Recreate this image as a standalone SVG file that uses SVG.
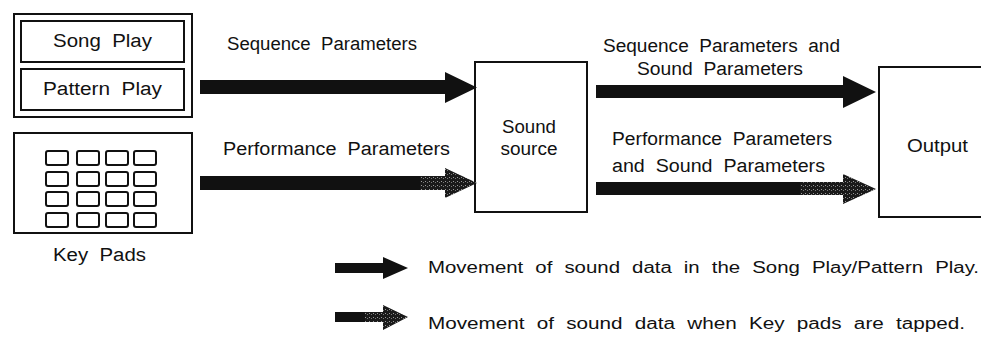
<svg xmlns="http://www.w3.org/2000/svg" width="981" height="338" viewBox="0 0 981 338">
<style>
  .box{fill:#fff;stroke:#111;stroke-width:2}
  .pad{fill:#fff;stroke:#111;stroke-width:2}
  .t{font-family:"Liberation Sans",Arial,sans-serif;font-size:18px;fill:#111;word-spacing:5px}
  .s{font-family:"Liberation Sans",Arial,sans-serif;font-size:16px;fill:#111;word-spacing:5px}
  .solid{fill:#111}
  .dith{fill:url(#speckle)}
</style>
<defs>
  <pattern id="speckle" width="4" height="4" patternUnits="userSpaceOnUse">
    <rect width="4" height="4" fill="#1a1a1a"/>
    <rect x="1" y="1" width="1" height="1" fill="#999"/>
    <rect x="3" y="2" width="1" height="1" fill="#777"/>
  </pattern>
</defs>
<rect width="981" height="338" fill="#fff"/>

<g id="play-group">
  <rect class="box" x="14" y="14" width="178" height="103"/>
  <g id="song-play">
    <rect class="box" x="21" y="21" width="163" height="41"/>
    <text class="t" x="53" y="47" textLength="99" lengthAdjust="spacingAndGlyphs">Song Play</text>
  </g>
  <g id="pattern-play">
    <rect class="box" x="21" y="69" width="163" height="41"/>
    <text class="t" x="43" y="95" textLength="119" lengthAdjust="spacingAndGlyphs">Pattern Play</text>
  </g>
</g>

<g id="key-pads">
  <rect class="box" x="14" y="133" width="178" height="100"/>
  <g>
    <rect class="pad" x="46" y="151" width="22" height="14" rx="2"/>
    <rect class="pad" x="77" y="151" width="22" height="14" rx="2"/>
    <rect class="pad" x="106" y="151" width="22" height="14" rx="2"/>
    <rect class="pad" x="134" y="151" width="22" height="14" rx="2"/>
    <rect class="pad" x="46" y="172" width="22" height="14" rx="2"/>
    <rect class="pad" x="77" y="172" width="22" height="14" rx="2"/>
    <rect class="pad" x="106" y="172" width="22" height="14" rx="2"/>
    <rect class="pad" x="134" y="172" width="22" height="14" rx="2"/>
    <rect class="pad" x="46" y="192" width="22" height="14" rx="2"/>
    <rect class="pad" x="77" y="192" width="22" height="14" rx="2"/>
    <rect class="pad" x="106" y="192" width="22" height="14" rx="2"/>
    <rect class="pad" x="134" y="192" width="22" height="14" rx="2"/>
    <rect class="pad" x="46" y="213" width="22" height="14" rx="2"/>
    <rect class="pad" x="77" y="213" width="22" height="14" rx="2"/>
    <rect class="pad" x="106" y="213" width="22" height="14" rx="2"/>
    <rect class="pad" x="134" y="213" width="22" height="14" rx="2"/>
  </g>
  <text class="t" x="53" y="261" textLength="93" lengthAdjust="spacingAndGlyphs">Key Pads</text>
</g>

<g id="sound-source">
  <rect class="box" x="475" y="62" width="112" height="150"/>
  <text class="t" x="529" y="133" text-anchor="middle" textLength="54" lengthAdjust="spacingAndGlyphs">Sound</text>
  <text class="t" x="529" y="155" text-anchor="middle" textLength="57" lengthAdjust="spacingAndGlyphs">source</text>
</g>

<g id="output">
  <rect class="box" x="879" y="67" width="120" height="150"/>
  <text class="t" x="907" y="152" textLength="61" lengthAdjust="spacingAndGlyphs">Output</text>
</g>

<g id="connectors">
  <polygon class="solid" points="200,80 445,80 445,72 477,87.5 445,103 445,94 200,94"/>
  <polygon class="solid" points="200,176 420,176 420,190 200,190"/>
  <polygon class="dith" points="420,176 445,176 445,168 477,183 445,198 445,190 420,190"/>
  <polygon class="solid" points="596,85 843,85 843,76 876,92 843,108 843,98 596,98"/>
  <polygon class="solid" points="596,182 800,182 800,195 596,195"/>
  <polygon class="dith" points="800,182 843,182 843,174 876,189 843,204 843,195 800,195"/>
  <text class="t" x="227" y="50" textLength="190" lengthAdjust="spacingAndGlyphs">Sequence Parameters</text>
  <text class="t" x="223" y="155" textLength="227" lengthAdjust="spacingAndGlyphs">Performance Parameters</text>
  <text class="t" x="603" y="52" textLength="237" lengthAdjust="spacingAndGlyphs">Sequence Parameters and</text>
  <text class="t" x="637" y="75" textLength="166" lengthAdjust="spacingAndGlyphs">Sound Parameters</text>
  <text class="t" x="612" y="145" textLength="220" lengthAdjust="spacingAndGlyphs">Performance Parameters</text>
  <text class="t" x="612" y="172" textLength="213" lengthAdjust="spacingAndGlyphs">and Sound Parameters</text>
</g>

<g id="legend">
  <polygon class="solid" points="335,263 383,263 383,257 408,268 383,279 383,273 335,273"/>
  <text class="s" x="428" y="273" textLength="551" lengthAdjust="spacingAndGlyphs">Movement of sound data in the Song Play/Pattern Play.</text>
  <polygon class="solid" points="335,312 365,312 365,322 335,322"/>
  <polygon class="dith" points="365,312 383,312 383,305 408,317 383,330 383,322 365,322"/>
  <text class="s" x="428" y="329" textLength="537" lengthAdjust="spacingAndGlyphs">Movement of sound data when Key pads are tapped.</text>
</g>
</svg>
